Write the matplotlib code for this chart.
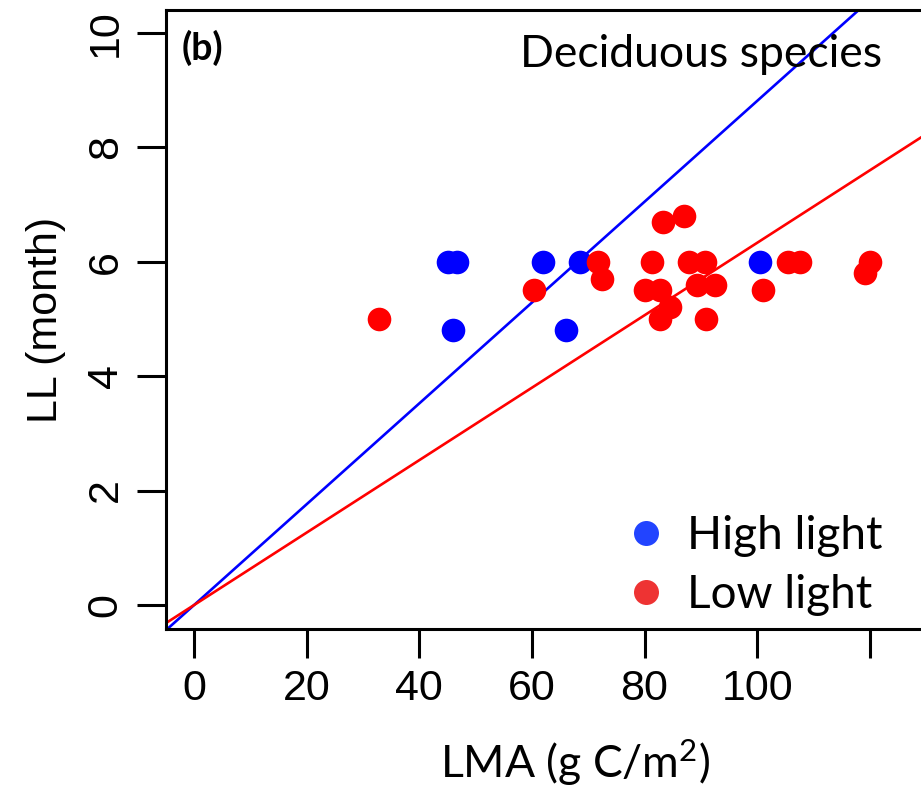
import matplotlib
matplotlib.use("Agg")
import matplotlib.pyplot as plt
from matplotlib.lines import Line2D
import numpy as np

# --- data ---
high_lma = [45.1, 46.7, 61.9, 68.6, 46.0, 66.0, 100.6]
high_ll = [6.0, 6.0, 6.0, 6.0, 4.8, 4.8, 6.0]

low_lma = [32.9, 60.3, 71.8, 72.5, 83.3, 87.1, 81.4, 87.9, 90.7, 80.0, 82.7,
           89.4, 92.6, 84.6, 82.7, 91.0, 101.1, 105.5, 107.6, 120.0, 119.1]
low_ll = [5.0, 5.5, 6.0, 5.7, 6.7, 6.8, 6.0, 6.0, 6.0, 5.5, 5.5,
          5.6, 5.6, 5.2, 5.0, 5.0, 5.5, 6.0, 6.0, 6.0, 5.8]

# fitted slopes (lines through the origin)
high_slope = 0.0881
low_slope = 0.0633

xticks = [0, 20, 40, 60, 80, 100, 120]
xticklabels = ["0", "20", "40", "60", "80", "100", ""]
yticks = [0, 2, 4, 6, 8, 10]

helv = ["Liberation Sans", "DejaVu Sans"]
cal = ["Lato", "DejaVu Sans"]

plt.rcParams["mathtext.fontset"] = "custom"
plt.rcParams["mathtext.rm"] = "Lato"
plt.rcParams["mathtext.it"] = "Lato:italic"

fig = plt.figure(figsize=(9.21, 7.86), dpi=100)
ax = fig.add_axes([166 / 921, 1 - 629 / 786, 760 / 921, 619 / 786])
ax.set_xlim(-5, 130)
ax.set_ylim(-0.42, 10.4)

xs = np.array([-5, 130])
ax.plot(xs, high_slope * xs, color="#0000ff", lw=1.9, zorder=2)
ax.plot(xs, low_slope * xs, color="#ff0000", lw=1.9, zorder=2)

ax.plot(high_lma, high_ll, "o", color="#0000ff", ms=17, mew=0, zorder=3)
ax.plot(low_lma, low_ll, "o", color="#ff0000", ms=17, mew=0, zorder=3)

for s in ax.spines.values():
    s.set_linewidth(2.2)

ax.set_xticks(xticks)
ax.set_xticklabels(xticklabels, fontfamily=helv, fontsize=31)
ax.set_yticks(yticks)
ax.set_yticklabels([str(v) for v in yticks], fontfamily=helv, fontsize=31,
                   rotation=90, va="center")
ax.tick_params(length=21, width=2.2, pad=8)

ax.set_xlabel(r"LMA (g C/m$\mathrm{^2}$)", fontfamily=cal, fontsize=32)
ax.xaxis.set_label_coords(0.538, -0.175)
ax.set_ylabel("LL (month)", fontfamily=helv, fontsize=31, labelpad=14)

ax.text(0.02, 0.968, "(b)", transform=ax.transAxes, fontfamily=cal,
        fontweight="bold", fontsize=27, va="top", ha="left")
ax.text(0.942, 0.962, "Deciduous species", transform=ax.transAxes,
        fontfamily=cal, fontsize=32, va="top", ha="right")

handles = [
    Line2D([], [], ls="", marker="o", ms=18, mew=0, color="#2244ff", label="High light"),
    Line2D([], [], ls="", marker="o", ms=18, mew=0, color="#ee3333", label="Low light"),
]
leg = ax.legend(handles=handles, loc="lower left", bbox_to_anchor=(0.571, -0.016),
                frameon=False, prop={"family": cal, "size": 33},
                handlelength=1.0, handletextpad=0.4, labelspacing=0.37, borderpad=0)

fig.savefig("out.png", dpi=100)
